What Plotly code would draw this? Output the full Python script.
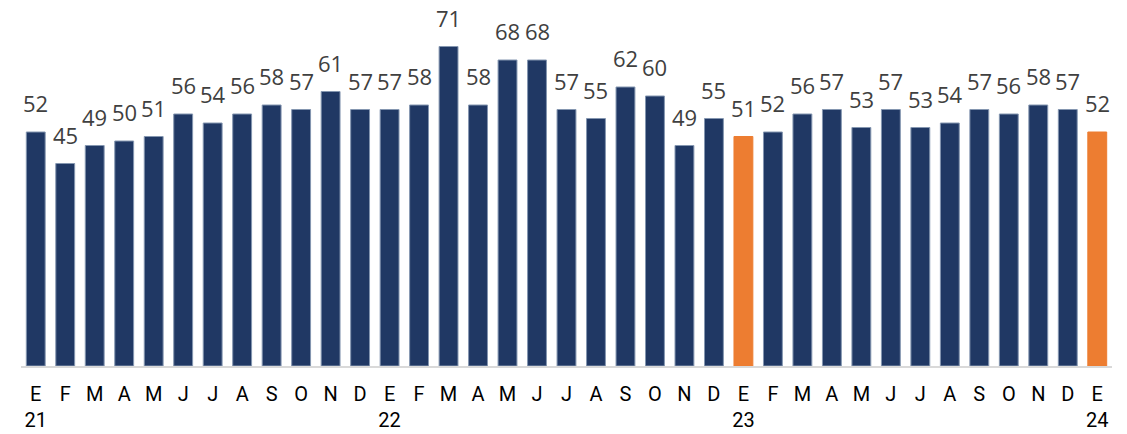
import plotly.graph_objects as go

# Monthly index values, Jan 2021 - Jan 2024
months = ["E", "F", "M", "A", "M", "J", "J", "A", "S", "O", "N", "D"] * 3 + ["E"]
years = ["21", "22", "23", "24"]
values = [52, 45, 49, 50, 51, 56, 54, 56, 58, 57, 61, 57,
          57, 58, 71, 58, 68, 68, 57, 55, 62, 60, 49, 55,
          51, 52, 56, 57, 53, 57, 53, 54, 57, 56, 58, 57,
          52]
highlight = {24, 36}  # January bars shown in orange

NAVY = "#203864"
ORANGE = "#ED7D31"

# Build tick text: month letter, with the year under each January
ticktext = []
for i, m in enumerate(months):
    if i % 12 == 0:
        ticktext.append(f"{m}<br>{years[i // 12]}")
    else:
        ticktext.append(m)

xs = list(range(len(values)))
colors = [ORANGE if i in highlight else NAVY for i in xs]
line_colors = [ORANGE if i in highlight else "#8496B0" for i in xs]

fig = go.Figure(
    go.Bar(
        x=xs,
        y=values,
        marker=dict(color=colors, line=dict(color=line_colors, width=1)),
        width=0.64,
        hoverinfo="skip",
    )
)

for x, v in zip(xs, values):
    fig.add_annotation(
        x=x, y=v, text=str(v), showarrow=False,
        yanchor="bottom", yshift=12,
        font=dict(family="Open Sans", size=22, color="#404040"),
    )

fig.update_layout(
    width=1127, height=434,
    margin=dict(l=21, r=15, t=6, b=68),
    paper_bgcolor="white", plot_bgcolor="white",
    showlegend=False,
    xaxis=dict(
        tickmode="array", tickvals=xs, ticktext=ticktext,
        range=[-0.5, len(values) - 0.5],
        showgrid=False, zeroline=False, automargin=False,
        showline=True, linecolor="#D9D9D9", linewidth=2,
        ticks="outside", ticklen=9, tickcolor="rgba(0,0,0,0)",
        tickfont=dict(family="Roboto", size=20, color="#000000"),
    ),
    yaxis=dict(range=[0, 80], visible=False, automargin=False),
)

fig.write_html("out.html")
